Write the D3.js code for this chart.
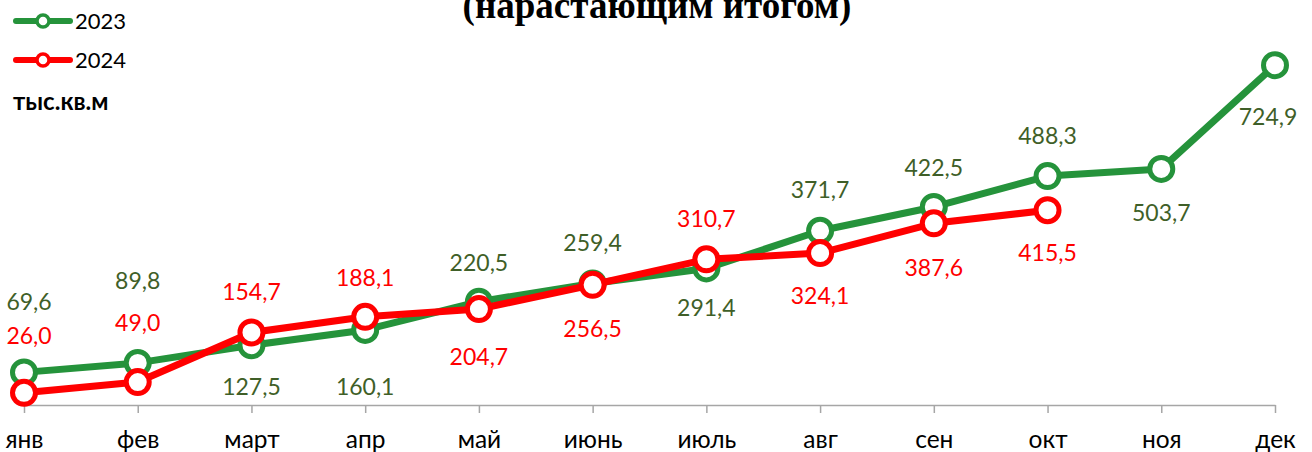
<!DOCTYPE html>
<html>
<head>
<meta charset="utf-8">
<script src="https://cdn.jsdelivr.net/npm/d3@7"></script>
<style>
  body { margin: 0; background: #fff; }
  svg { display: block; }
  .axis path, .axis line { stroke: #a6a6a6; stroke-width: 1.5px; }
  .axis text { font-family: Lato, "Open Sans", sans-serif; font-size: 24.5px; fill: #000; }
</style>
</head>
<body>
<div id="plot"></div>
<script>
// data
var months = ["янв", "фев", "март", "апр", "май", "июнь", "июль", "авг", "сен", "окт", "ноя", "дек"];
var values2023 = [69.6, 89.8, 127.5, 160.1, 220.5, 259.4, 291.4, 371.7, 422.5, 488.3, 503.7, 724.9];
var values2024 = [26.0, 49.0, 154.7, 188.1, 204.7, 256.5, 310.7, 324.1, 387.6, 415.5];
var yDomain = [0, 800];

// where each data label sits relative to its point (px, baseline offset)
var labelDy2023 = [-62, -74, 50, 65, -31, -32, 48, -33, -31, -32, 52, 60];
var labelDy2024 = [-49, -51, -32, -31, 56, 52, -32, 51, 53, 51];

var width = 1312, height = 452;

var svg = d3.select("#plot")
  .append("svg")
    .attr("width", width)
    .attr("height", height);

var x = d3.scalePoint()
  .domain(months)
  .range([24, 1275]);

var y = d3.scaleLinear()
  .domain(yDomain)
  .range([405, 30]);

// X axis
var xAxis = svg.append("g").attr("class", "axis")
  .attr("transform", "translate(0,405)")
  .call(d3.axisBottom(x).tickSize(8).tickSizeOuter(0));
xAxis.selectAll("text")
  .attr("y", 43)
  .attr("dy", 0);

// title (only its second line falls inside the frame)
svg.append("text")
  .attr("x", 657)
  .attr("y", 18)
  .attr("text-anchor", "middle")
  .style("font-family", "'Liberation Serif', 'Times New Roman', serif")
  .style("font-weight", "bold")
  .style("font-size", "37px")
  .text("(нарастающим итогом)");

// unit
svg.append("text")
  .attr("x", 13)
  .attr("y", 110)
  .style("font-family", "Lato, sans-serif")
  .style("font-weight", "bold")
  .style("font-size", "24px")
  .text("тыс.кв.м");

var series = [
  {name: "2023", values: values2023, dy: labelDy2023, color: "#25933b", labelColor: "#3f5f28"},
  {name: "2024", values: values2024, dy: labelDy2024, color: "#ff0000", labelColor: "#ff0000"}
];

var line = d3.line()
  .x(function(d, i) { return x(months[i]); })
  .y(function(d) { return y(d); });

series.forEach(function(s) {
  svg.append("path")
    .datum(s.values)
    .attr("d", line)
    .attr("fill", "none")
    .attr("stroke", s.color)
    .attr("stroke-width", 7)
    .attr("stroke-linejoin", "round");

  svg.append("g")
    .selectAll("circle")
    .data(s.values)
    .enter()
    .append("circle")
      .attr("cx", function(d, i) { return x(months[i]); })
      .attr("cy", function(d) { return y(d); })
      .attr("r", 11.5)
      .attr("fill", "#fff")
      .attr("stroke", s.color)
      .attr("stroke-width", 5);
});

// data labels on top
series.forEach(function(s) {
  svg.append("g")
    .selectAll("text")
    .data(s.values)
    .enter()
    .append("text")
      .attr("x", function(d, i) {
        var px = x(months[i]);
        if (i == 0) px += 5;
        if (i == months.length - 1) px -= 7;
        return px;
      })
      .attr("y", function(d, i) { return y(d) + s.dy[i]; })
      .attr("text-anchor", "middle")
      .attr("fill", s.labelColor)
      .style("font-family", "Lato, 'Open Sans', sans-serif")
      .style("font-size", "23px")
      .text(function(d) { return d.toFixed(1).replace(".", ","); });
});

// legend
var legend = svg.append("g");
series.forEach(function(s, i) {
  var ly = 21 + i * 39;
  legend.append("line")
    .attr("x1", 16).attr("x2", 70)
    .attr("y1", ly).attr("y2", ly)
    .attr("stroke", s.color)
    .attr("stroke-width", 6)
    .attr("stroke-linecap", "round");
  legend.append("circle")
    .attr("cx", 43).attr("cy", ly)
    .attr("r", 6)
    .attr("fill", "#fff")
    .attr("stroke", s.color)
    .attr("stroke-width", 3.5);
  legend.append("text")
    .attr("x", 75).attr("y", ly + 8)
    .style("font-family", "Lato, 'Open Sans', sans-serif")
    .style("font-size", "22px")
    .text(s.name);
});
</script>
</body>
</html>
